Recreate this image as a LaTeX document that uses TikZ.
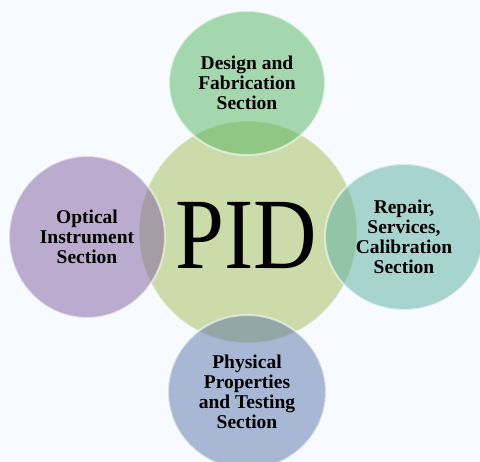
\documentclass[tikz,border=0pt]{standalone}
\usepackage{fontspec}
\setmainfont{Liberation Serif}
\usepackage{tikz}
\usetikzlibrary{shapes.geometric}

\definecolor{bgcol}{RGB}{247,251,255}
\definecolor{pidcol}{RGB}{204,219,170}
\definecolor{designcol}{RGB}{85,181,97}
\definecolor{repaircol}{RGB}{89,175,161}
\definecolor{opticalcol}{RGB}{129,95,161}
\definecolor{physicalcol}{RGB}{91,117,169}

\begin{document}
\begin{tikzpicture}[
  x=1pt,y=1pt,
  hub/.style={ellipse, fill=pidcol, draw=white, draw opacity=0.35, line width=1.5pt, inner sep=0pt},
  section/.style={ellipse, fill=#1, fill opacity=0.5, text opacity=1, draw=white, draw opacity=0.55, line width=2pt, align=center, inner sep=0pt, font=\fontsize{19.5}{20}\selectfont\bfseries},
]
\fill[bgcol] (0,0) rectangle (480,462);
\useasboundingbox (0,0) rectangle (480,462);
\node[hub, minimum width=218pt, minimum height=222pt] (pid) at (248,230) {};
\node[font=\fontsize{101}{101}\selectfont, xscale=0.87] (pidtext) at (246,226) {PID};
\node[section=designcol, minimum width=156pt, minimum height=144pt] (design) at (247,379) {Design and\\Fabrication\\Section};
\node[section=repaircol, minimum width=158pt, minimum height=146pt] (repair) at (404,225) {Repair,\\Services,\\Calibration\\Section};
\node[section=opticalcol, minimum width=156pt, minimum height=162pt] (optical) at (87,225) {Optical\\Instrument\\Section};
\node[section=physicalcol, minimum width=158pt, minimum height=154pt] (physical) at (247,70) {Physical\\Properties\\and Testing\\Section};
\end{tikzpicture}
\end{document}
